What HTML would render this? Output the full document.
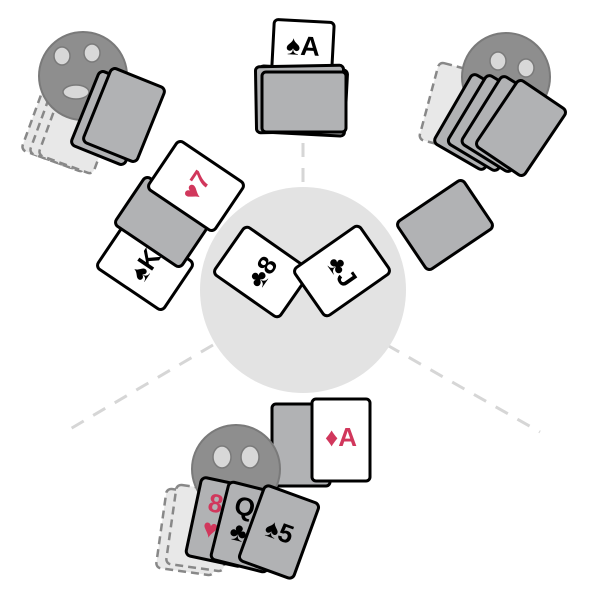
<!DOCTYPE html>
<html><head><meta charset="utf-8"><style>
html,body{margin:0;padding:0;background:#fff;width:600px;height:600px;overflow:hidden}
svg text{font-family:"Liberation Sans","DejaVu Sans",sans-serif;font-weight:bold}
</style></head><body>
<svg width="600" height="600" viewBox="0 0 600 600" xmlns="http://www.w3.org/2000/svg">
<defs>
<rect id="c" x="-29" y="-40" width="58" height="80" rx="5"/>
</defs>
<g stroke="#d6d6d6" stroke-width="3" stroke-dasharray="14 11" fill="none">
<line x1="303" y1="143" x2="303" y2="186"/>
<line x1="213" y1="345" x2="65" y2="432"/>
<line x1="387" y1="345" x2="540" y2="432"/>
</g>
<circle cx="303" cy="290" r="103" fill="#e3e3e3"/>

<!-- top-left player -->
<g fill="#e8e8e8" stroke="#888" stroke-width="2.5" stroke-dasharray="8 5">
<use href="#c" transform="translate(62,122) rotate(20)"/>
<use href="#c" transform="translate(70,125) rotate(20)"/>
<use href="#c" transform="translate(79,127) rotate(20)"/>
</g>
<circle cx="83" cy="76" r="44" fill="#8e8e8e" stroke="#7a7a7a" stroke-width="2"/>
<ellipse cx="62" cy="56" rx="8" ry="9" fill="#d8d8d8" stroke="#7a7a7a" stroke-width="1.5"/>
<ellipse cx="92" cy="53" rx="8" ry="9" fill="#d8d8d8" stroke="#7a7a7a" stroke-width="1.5"/>
<ellipse cx="76" cy="92" rx="13" ry="7" fill="#d8d8d8" stroke="#7a7a7a" stroke-width="1.5"/>
<g fill="#b1b2b4" stroke="#000" stroke-width="3">
<use href="#c" transform="translate(112,118) rotate(22)"/>
<use href="#c" transform="translate(124,115) rotate(22)"/>
</g>

<!-- top deck -->
<g transform="translate(303,46) rotate(3)">
<rect x="-30" y="-25" width="60" height="50" rx="4" fill="#fff" stroke="#000" stroke-width="3"/>
<text x="0" y="9" font-size="27" text-anchor="middle" fill="#000">♠A</text>
</g>
<g stroke="#000" stroke-width="3" fill="#b1b2b4">
<rect x="258" y="68" width="88" height="66" rx="4" transform="rotate(3 302 101)"/>
<rect x="256" y="66" width="88" height="66" rx="4" transform="rotate(-1 300 99)"/>
<rect x="262" y="72" width="84" height="60" rx="4"/>
</g>

<!-- top-right player -->
<use href="#c" transform="translate(457,108) rotate(15)" fill="#e8e8e8" stroke="#888" stroke-width="2.5" stroke-dasharray="8 5"/>
<circle cx="506" cy="77" r="44" fill="#8e8e8e" stroke="#7a7a7a" stroke-width="2"/>
<ellipse cx="498" cy="61" rx="8" ry="9" fill="#d8d8d8" stroke="#7a7a7a" stroke-width="1.5"/>
<ellipse cx="526" cy="68" rx="8" ry="9" fill="#d8d8d8" stroke="#7a7a7a" stroke-width="1.5"/>
<g fill="#b1b2b4" stroke="#000" stroke-width="3">
<use href="#c" transform="translate(478,122) rotate(30)"/>
<use href="#c" transform="translate(492,123) rotate(31)"/>
<use href="#c" transform="translate(506,124) rotate(32)"/>
<use href="#c" transform="translate(521,128) rotate(34)"/>
</g>
<use href="#c" transform="translate(445,225) rotate(56)" fill="#b1b2b4" stroke="#000" stroke-width="3"/>

<!-- left hand -->
<g transform="translate(145,265) rotate(-56)">
<use href="#c" fill="#fff" stroke="#000" stroke-width="3"/>
<text x="0" y="9" font-size="26" text-anchor="middle">♠K</text>
</g>
<use href="#c" transform="translate(163,222) rotate(-56)" fill="#b1b2b4" stroke="#000" stroke-width="3"/>
<g transform="translate(196,186) rotate(-56)">
<use href="#c" fill="#fff" stroke="#000" stroke-width="3"/>
<text x="0" y="9" font-size="26" text-anchor="middle" fill="#d1375c">♥7</text>
</g>

<!-- center -->
<g transform="translate(262,272) rotate(-55)">
<use href="#c" fill="#fff" stroke="#000" stroke-width="3"/>
<text x="0" y="9" font-size="26" text-anchor="middle">♣8</text>
</g>
<g transform="translate(342,271) rotate(55)">
<use href="#c" fill="#fff" stroke="#000" stroke-width="3"/>
<text x="0" y="9" font-size="26" text-anchor="middle">♣J</text>
</g>

<!-- bottom player -->
<rect x="272" y="404" width="58" height="82" rx="4" fill="#b1b2b4" stroke="#000" stroke-width="3"/>
<rect x="312" y="399" width="58" height="82" rx="4" fill="#fff" stroke="#000" stroke-width="3"/>
<text x="341" y="446" font-size="26" text-anchor="middle" fill="#d1375c">♦A</text>
<g fill="#e8e8e8" stroke="#888" stroke-width="2.5" stroke-dasharray="8 5">
<use href="#c" transform="translate(190,532) rotate(8)"/>
<use href="#c" transform="translate(200,528) rotate(8)"/>
</g>
<circle cx="236" cy="469" r="44" fill="#8e8e8e" stroke="#7a7a7a" stroke-width="2"/>
<ellipse cx="222" cy="457" rx="9" ry="11" fill="#d8d8d8" stroke="#7a7a7a" stroke-width="1.5"/>
<ellipse cx="250" cy="457" rx="9" ry="11" fill="#d8d8d8" stroke="#7a7a7a" stroke-width="1.5"/>
<g transform="translate(222,522) rotate(12)">
<use href="#c" fill="#b1b2b4" stroke="#000" stroke-width="3"/>
<text x="-10" y="-8" font-size="26" text-anchor="middle" fill="#d1375c">8</text>
<text x="-10" y="18" font-size="26" text-anchor="middle" fill="#d1375c">♥</text>
</g>
<g transform="translate(248,527) rotate(14)">
<use href="#c" fill="#b1b2b4" stroke="#000" stroke-width="3"/>
<text x="-8" y="-10" font-size="26" text-anchor="middle">Q</text>
<text x="-8" y="16" font-size="26" text-anchor="middle">♣</text>
</g>
<g transform="translate(279,532) rotate(20)">
<use href="#c" fill="#b1b2b4" stroke="#000" stroke-width="3"/>
<text x="0" y="8" font-size="26" text-anchor="middle">♠5</text>
</g>
</svg>
</body></html>
